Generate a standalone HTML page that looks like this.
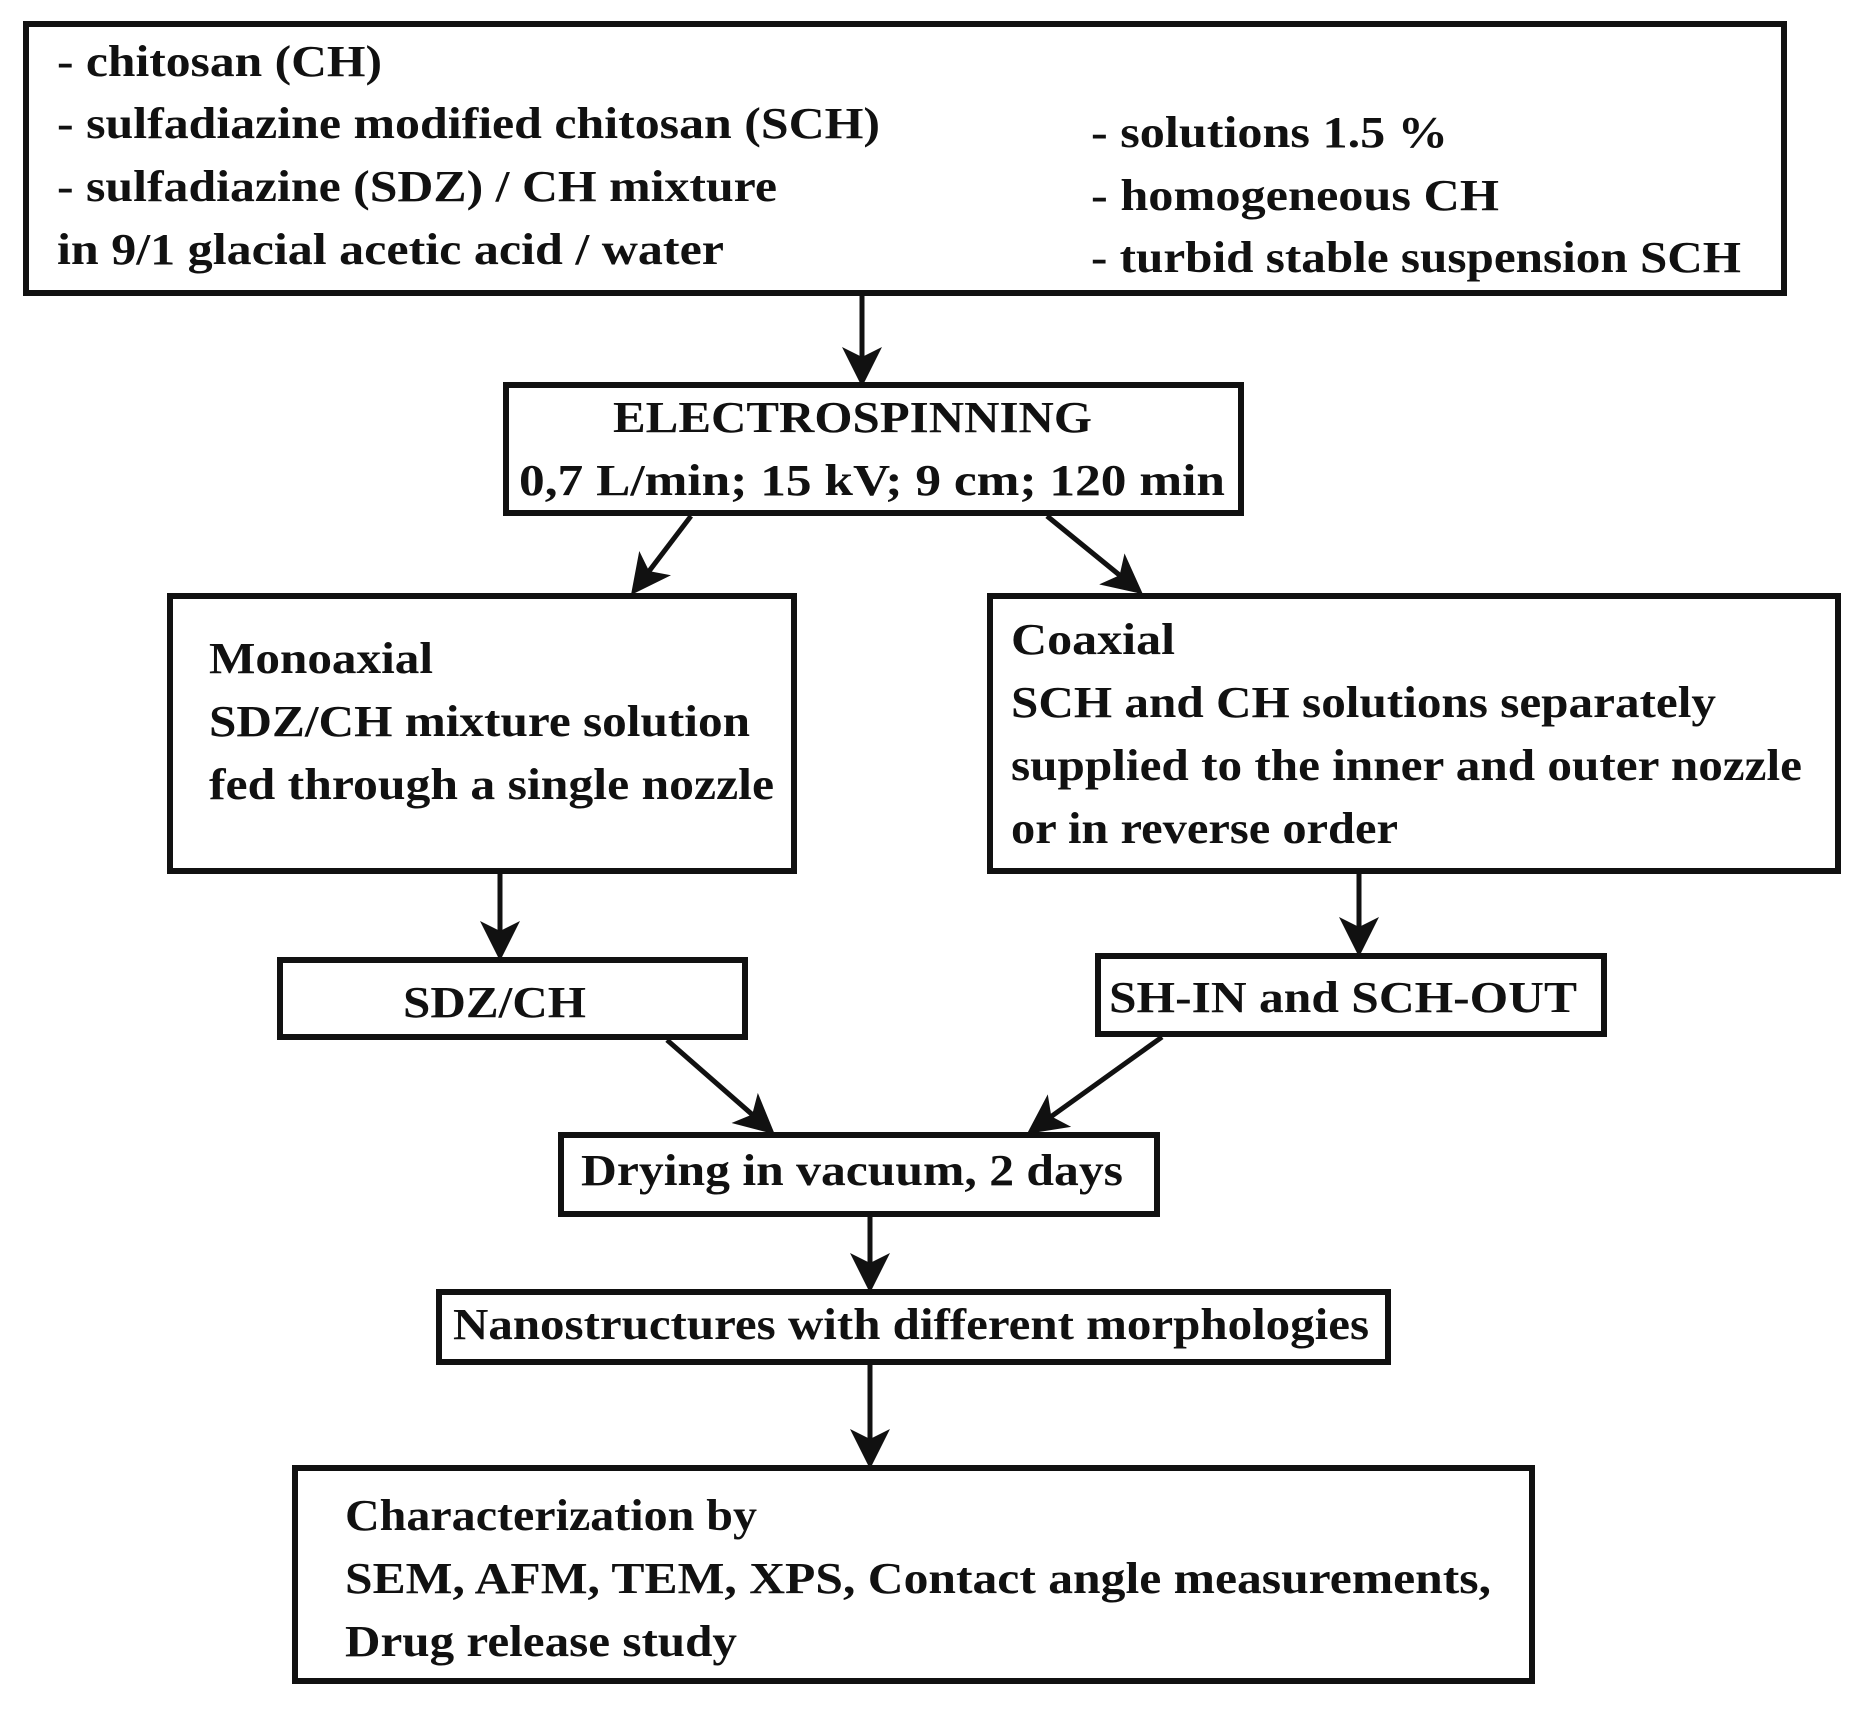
<!DOCTYPE html>
<html><head><meta charset="utf-8"><style>
html,body{margin:0;padding:0;background:#fff;}
svg{display:block;}
text{font-family:"Liberation Serif",serif;font-size:44px;font-weight:bold;fill:#111;}
</style></head><body>
<svg width="1859" height="1713" viewBox="0 0 1859 1713" xmlns="http://www.w3.org/2000/svg">
<defs>
<marker id="a" markerWidth="8" markerHeight="8" refX="7" refY="4" orient="auto" markerUnits="strokeWidth">
<path d="M0,0 L8,4 L0,8 L2,4 Z" fill="#111"/>
</marker>
</defs>
<g fill="none" stroke="#111" stroke-width="6">
<rect x="26" y="24" width="1758" height="269"/>
<rect x="506" y="385" width="735" height="128"/>
<rect x="170" y="596" width="624" height="275"/>
<rect x="990" y="596" width="848" height="275"/>
<rect x="280" y="960" width="465" height="77"/>
<rect x="1098" y="956" width="506" height="78"/>
<rect x="561" y="1135" width="596" height="79"/>
<rect x="439" y="1292" width="949" height="70"/>
<rect x="295" y="1468" width="1237" height="213"/>
</g>
<g stroke="#111" stroke-width="5" marker-end="url(#a)" fill="none">
<line x1="862" y1="296" x2="862" y2="382"/>
<line x1="691" y1="516" x2="634" y2="591"/>
<line x1="1047" y1="516" x2="1139" y2="591"/>
<line x1="500" y1="874" x2="500" y2="956"/>
<line x1="1359" y1="874" x2="1359" y2="952"/>
<line x1="667" y1="1040" x2="771" y2="1131"/>
<line x1="1162" y1="1037" x2="1031" y2="1131"/>
<line x1="870" y1="1217" x2="870" y2="1288"/>
<line x1="870" y1="1365" x2="870" y2="1464"/>
</g>
<text x="57" y="76" textLength="325" lengthAdjust="spacingAndGlyphs">- chitosan (CH)</text>
<text x="57" y="138" textLength="823" lengthAdjust="spacingAndGlyphs">- sulfadiazine modified chitosan (SCH)</text>
<text x="57" y="201" textLength="720" lengthAdjust="spacingAndGlyphs">- sulfadiazine (SDZ) / CH mixture</text>
<text x="57" y="264" textLength="667" lengthAdjust="spacingAndGlyphs">in 9/1 glacial acetic acid / water</text>
<text x="1091" y="147" textLength="357" lengthAdjust="spacingAndGlyphs">- solutions 1.5 %</text>
<text x="1091" y="210" textLength="408" lengthAdjust="spacingAndGlyphs">- homogeneous CH</text>
<text x="1091" y="272" textLength="650" lengthAdjust="spacingAndGlyphs">- turbid stable suspension SCH</text>
<text x="613" y="432" textLength="479" lengthAdjust="spacingAndGlyphs">ELECTROSPINNING</text>
<text x="519" y="495" textLength="706" lengthAdjust="spacingAndGlyphs">0,7  L/min; 15 kV; 9 cm; 120 min</text>
<text x="209" y="673" textLength="224" lengthAdjust="spacingAndGlyphs">Monoaxial</text>
<text x="209" y="736" textLength="541" lengthAdjust="spacingAndGlyphs">SDZ/CH mixture solution</text>
<text x="209" y="799" textLength="565" lengthAdjust="spacingAndGlyphs">fed through a single nozzle</text>
<text x="1011" y="654" textLength="164" lengthAdjust="spacingAndGlyphs">Coaxial</text>
<text x="1011" y="717" textLength="705" lengthAdjust="spacingAndGlyphs">SCH and CH solutions separately</text>
<text x="1011" y="780" textLength="791" lengthAdjust="spacingAndGlyphs">supplied to the inner and outer nozzle</text>
<text x="1011" y="843" textLength="387" lengthAdjust="spacingAndGlyphs">or in reverse order</text>
<text x="403" y="1017" textLength="183" lengthAdjust="spacingAndGlyphs">SDZ/CH</text>
<text x="1109" y="1012" textLength="468" lengthAdjust="spacingAndGlyphs">SH-IN and SCH-OUT</text>
<text x="581" y="1185" textLength="542" lengthAdjust="spacingAndGlyphs">Drying in vacuum, 2 days</text>
<text x="453" y="1339" textLength="916" lengthAdjust="spacingAndGlyphs">Nanostructures with different morphologies</text>
<text x="345" y="1530" textLength="412" lengthAdjust="spacingAndGlyphs">Characterization by</text>
<text x="345" y="1593" textLength="1146" lengthAdjust="spacingAndGlyphs">SEM, AFM, TEM, XPS, Contact angle measurements,</text>
<text x="345" y="1656" textLength="392" lengthAdjust="spacingAndGlyphs">Drug release study</text>
</svg>
</body></html>
